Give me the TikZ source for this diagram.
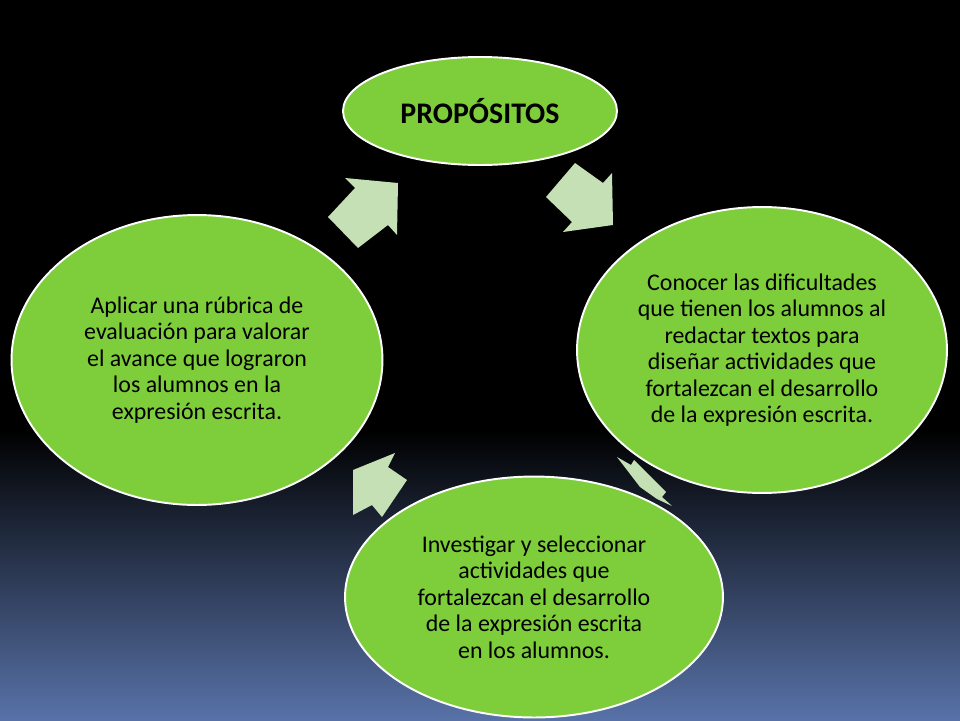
\documentclass[tikz,border=0pt]{standalone}
\usepackage{fontspec}
\setmainfont{Carlito}
\usetikzlibrary{shapes.geometric}
\definecolor{verde}{RGB}{126,206,60}
\definecolor{verdeclaro}{RGB}{197,224,180}
\definecolor{azulfondo}{RGB}{88,114,168}
\begin{document}
\begin{tikzpicture}[x=0.02cm,y=-0.02cm]
			\tikzstyle{fase}=[ellipse,draw=white,line width=1.1pt,fill=verde,text=black,align=center,inner sep=0pt,font=\fontsize{13.6}{15.1}\selectfont]
			\tikzstyle{flecha}=[fill=verdeclaro,draw=none]
			
			% fondo
			\useasboundingbox (0,0) rectangle (960,720);
			\fill[black] (0,0) rectangle (960,431);
			\shade[top color=black,bottom color=azulfondo] (0,430) rectangle (960,720);
			
			% flechas
			\fill[flecha] (345,178) -- (398,183) -- (397,235) -- (388,225) -- (358,248) -- (328,217) -- (355,188) -- cycle;
			\fill[flecha] (575,163) -- (603,183) -- (612,173) -- (613,225) -- (563,232) -- (572,222) -- (546,197) -- cycle;
			\fill[flecha] (617,457) -- (631,465) -- (634,460) -- (666,492) -- (662,497) -- (672,506) -- (657,499) -- (640,487) -- cycle;
			\fill[flecha] (395,453) -- (388,467) -- (407,480) -- (382,517) -- (372,505) -- (353,515) -- (353,470) -- cycle;
			
			% fases
			\node[fase,minimum width=5.48cm,minimum height=2.16cm] (P) at (480,111) {\fontsize{17}{20}\selectfont\textbf{PROPÓSITOS}};
			\node[fase,minimum width=7.4cm,minimum height=5.72cm] (C) at (762,350) {Conocer las dificultades\\que tienen los alumnos al\\redactar textos para\\diseñar actividades que\\fortalezcan el desarrollo\\de la expresión escrita.};
			\node[fase,minimum width=7.56cm,minimum height=4.82cm] (I) at (534,597) {Investigar y seleccionar\\actividades que\\fortalezcan el desarrollo\\de la expresión escrita\\en los alumnos.};
			\node[fase,minimum width=7.42cm,minimum height=5.8cm] (A) at (197,360) {Aplicar una rúbrica de\\evaluación para valorar\\el avance que lograron\\los alumnos en la\\expresión escrita.};
			
			
			\end{tikzpicture}
\end{document}
